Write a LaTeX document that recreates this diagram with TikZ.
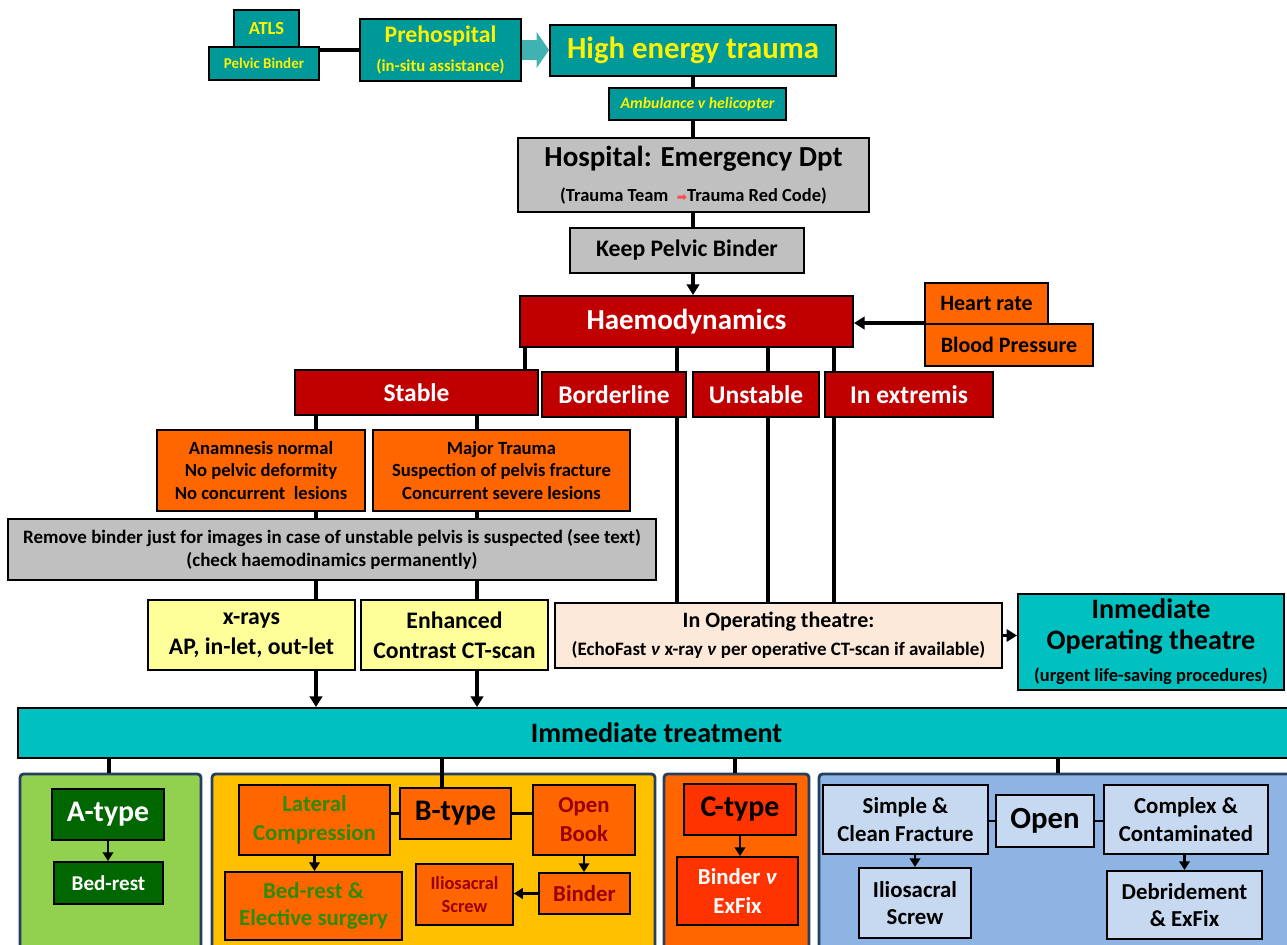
\documentclass[tikz,border=0pt]{standalone}
\usepackage{fontspec}
\setmainfont{Carlito}
\newfontfamily\symfont{DejaVu Sans}
\usepackage{tikz}
\usetikzlibrary{arrows.meta}
\usetikzlibrary{calc}

\definecolor{tealbg}{HTML}{009999}
\definecolor{cyanbg}{HTML}{00C0C0}
\definecolor{greybg}{HTML}{C0C0C0}
\definecolor{redbg}{HTML}{C00000}
\definecolor{orangebg}{HTML}{FF6600}
\definecolor{yellowbg}{HTML}{FFFF99}
\definecolor{peachbg}{HTML}{FDE9D9}
\definecolor{greenpanel}{HTML}{92D050}
\definecolor{darkgreen}{HTML}{006600}
\definecolor{goldpanel}{HTML}{FFC000}
\definecolor{ctypebg}{HTML}{FF3300}
\definecolor{bluepanel}{HTML}{8EB4E3}
\definecolor{lightblue}{HTML}{C6D9F1}
\definecolor{greentext}{HTML}{2E8B00}
\definecolor{redtext}{HTML}{990000}
\definecolor{panelline}{HTML}{243F60}

\newcommand{\fsz}[2]{\fontsize{#1}{#2}\selectfont\bfseries}

\begin{document}
\begin{tikzpicture}[x=0.02cm, y=-0.02cm,
    spot/.style n args={4}{at={({(#1+#3)/2},{(#2+#4)/2})},
      minimum width={(#3-#1)*0.02cm}, minimum height={(#4-#2)*0.02cm}},
    box/.style={draw=black, line width=1.1pt, inner sep=0pt, align=center},
    tealbox/.style={box, fill=tealbg, text=yellow},
    greybox/.style={box, fill=greybg},
    redbox/.style={box, fill=redbg, text=white},
    orangebox/.style={box, fill=orangebg},
    panel/.style={draw=panelline, line width=1.6pt, rounded corners=2pt, inner sep=0pt},
    link/.style={line width=1.8pt},
    arr/.style={link, -{Triangle[length=6pt,width=7pt]}},
    thinlink/.style={line width=1.2pt},
    thinarr/.style={thinlink, -{Triangle[length=5pt,width=6pt]}},
    fatarr/.style={line width=11pt, draw=tealbg!75, -{Triangle[length=7pt,width=20pt]}}]
  \useasboundingbox (0,0) rectangle (1287,945);

  % guide lines for the connectors
  \coordinate (spine) at (693,0);
  \coordinate (h0) at (525,0);
  \coordinate (h1) at (677,0);
  \coordinate (h2) at (768,0);
  \coordinate (h3) at (834,0);
  \coordinate (s1) at (316,0);
  \coordinate (s2) at (477,0);
  \coordinate (p1) at (109,0);
  \coordinate (p2) at (442,0);
  \coordinate (p3) at (735,0);
  \coordinate (p4) at (1058,0);

  % prehospital
  \node[tealbox, spot={234}{10}{299}{47}, font=\fsz{10.5}{12}] (atls) {ATLS};
  \node[tealbox, spot={209}{47}{319}{80}, font=\fsz{8.5}{10}] (pelvic) {Pelvic Binder};
  \node[tealbox, spot={360}{19}{521}{81}, font=\fsz{13.5}{15}] (prehosp)
    {Prehospital\\[1pt]{\fsz{9.5}{11}(in-situ assistance)}};
  \node[tealbox, spot={550}{25}{836}{76}, font=\fsz{17.5}{20}] (high) {High energy trauma};
  \node[tealbox, spot={609}{88}{786}{120}, font=\fsz{9}{10}\itshape] (amb) {Ambulance v helicopter};

  % hospital
  \node[greybox, spot={518}{138}{869}{212}, font=\fsz{16.5}{19}] (hosp)
    {Hospital: Emergency Dpt\\[1pt]{\fsz{10.5}{12}(Trauma Team \ {\symfont\fontsize{7}{8}\selectfont\textcolor{red!70}{➡}}Trauma Red Code)}};
  \node[greybox, spot={570}{228}{804}{273}, font=\fsz{13.5}{16}] (keep) {Keep Pelvic Binder};
  \node[redbox, spot={520}{296}{853}{347}, font=\fsz{16.5}{19}] (haemo) {Haemodynamics};
  \node[orangebox, spot={925}{283}{1048}{324}, font=\fsz{12.5}{15}] (heart) {Heart rate};
  \node[orangebox, spot={925}{324}{1093}{366}, font=\fsz{12.5}{15}] (blood) {Blood Pressure};

  % haemodynamic state
  \node[redbox, spot={295}{370}{538}{415}, font=\fsz{14.5}{17}] (stable) {Stable};
  \node[redbox, spot={542}{372}{686}{417}, font=\fsz{14.5}{17}] (border) {Borderline};
  \node[redbox, spot={693}{372}{819}{417}, font=\fsz{14.5}{17}] (unstable) {Unstable};
  \node[redbox, spot={825}{372}{993}{417}, font=\fsz{14.5}{17}] (extremis) {In extremis};

  \node[orangebox, spot={157}{430}{365}{511}, font=\fsz{10.6}{12.6}] (anam)
    {Anamnesis normal\\No pelvic deformity\\No concurrent\ \ lesions};
  \node[orangebox, spot={373}{430}{630}{511}, font=\fsz{10.6}{12.6}] (major)
    {Major Trauma\\Suspection of pelvis fracture\\Concurrent severe lesions};
  \node[greybox, spot={8}{519}{656}{580}, font=\fsz{10.8}{13.5}] (remove)
    {Remove binder just for images in case of unstable pelvis is suspected (see text)\\(check haemodinamics permanently)};

  % imaging
  \node[box, fill=yellowbg, spot={148}{600}{355}{670}, font=\fsz{13.5}{17}] (xrays) {x-rays\\AP, in-let, out-let};
  \node[box, fill=yellowbg, spot={361}{600}{548}{670}, font=\fsz{13.5}{17}] (ct) {Enhanced\\Contrast CT-scan};
  \node[box, fill=peachbg, spot={555}{603}{1002}{668}, font=\fsz{12.5}{15}] (optheatre)
    {In Operating theatre:\\[1pt]{\fsz{10.8}{12}(EchoFast \textit{ν} x-ray \textit{ν} per operative CT-scan if available)}};
  \node[box, fill=cyanbg, spot={1018}{594}{1284}{690}, font=\fsz{16}{17.5}] (inmed)
    {Inmediate\\Operating theatre\\[1pt]{\fsz{10.5}{12}(urgent life-saving procedures)}};

  \node[box, fill=cyanbg, spot={18}{708}{1295}{758}, font=\fsz{16}{19}] (immtreat) {Immediate treatment};

  % fracture types
  \node[panel, fill=greenpanel, spot={20}{774}{201}{960}] (panelA) {};
  \node[panel, fill=goldpanel, spot={212}{774}{655}{960}] (panelB) {};
  \node[panel, fill=orangebg, spot={664}{774}{809}{960}] (panelC) {};
  \node[panel, fill=bluepanel, spot={819}{774}{1300}{960}] (panelD) {};

  \node[box, fill=darkgreen, text=white, spot={52}{789}{164}{840}, font=\fsz{17}{19}] (atype) {A-type};
  \node[box, fill=darkgreen, text=white, spot={54}{862}{163}{904}, font=\fsz{12}{14}] (abed) {Bed-rest};

  \node[orangebox, text=greentext, spot={239}{785}{390}{855}, font=\fsz{13}{16.5}] (lateral) {Lateral\\Compression};
  \node[orangebox, spot={400}{788}{511}{839}, font=\fsz{17}{19}] (btype) {B-type};
  \node[orangebox, text=redtext, spot={533}{785}{635}{855}, font=\fsz{13}{16.5}] (openbook) {Open\\Book};
  \node[orangebox, text=greentext, spot={225}{872}{402}{940}, font=\fsz{13}{15.5}] (bbed) {Bed-rest \&\\Elective surgery};
  \node[orangebox, text=redtext, spot={416}{864}{513}{925}, font=\fsz{10.5}{13.5}] (biliosacral) {Iliosacral\\Screw};
  \node[orangebox, text=redtext, spot={539}{873}{630}{914}, font=\fsz{13}{15}] (bbinder) {Binder};

  \node[box, fill=ctypebg, spot={684}{784}{796}{835}, font=\fsz{17}{19}] (ctype) {C-type};
  \node[box, fill=ctypebg, text=white, spot={677}{857}{798}{925}, font=\fsz{13}{16.5}] (cbinder)
    {Binder \textit{ν}\\ExFix};

  \node[box, fill=lightblue, spot={823}{785}{988}{854}, font=\fsz{13}{15.5}] (simple) {Simple \&\\Clean Fracture};
  \node[box, fill=lightblue, spot={996}{795}{1094}{847}, font=\fsz{17.5}{20}] (open) {Open};
  \node[box, fill=lightblue, spot={1104}{785}{1268}{854}, font=\fsz{13}{15.5}] (complex) {Complex \&\\Contaminated};
  \node[box, fill=lightblue, spot={859}{868}{971}{938}, font=\fsz{13}{15.5}] (diliosacral) {Iliosacral\\Screw};
  \node[box, fill=lightblue, spot={1107}{871}{1262}{939}, font=\fsz{13}{15}] (debride) {Debridement\\\& ExFix};

  % connectors
  \draw[link] (pelvic.east |- prehosp.west) -- (prehosp.west);
  \draw[fatarr] (prehosp.east) -- (prehosp.east -| high.west);
  \draw[link] (high.south -| spine) -- (amb.north -| spine);
  \draw[link] (amb.south -| spine) -- (hosp.north -| spine);
  \draw[link] (hosp.south -| spine) -- (keep.north -| spine);
  \draw[arr] (keep.south -| spine) -- (haemo.north -| spine);
  \draw[arr] (blood.north west) -- (blood.north west -| haemo.east);

  \draw[link] (haemo.south -| h0) -- (stable.north -| h0);
  \draw[link] (haemo.south -| h1) -- (border.north -| h1);
  \draw[link] (haemo.south -| h2) -- (unstable.north -| h2);
  \draw[link] (haemo.south -| h3) -- (extremis.north -| h3);
  \draw[link] (border.south -| h1) -- (optheatre.north -| h1);
  \draw[link] (unstable.south -| h2) -- (optheatre.north -| h2);
  \draw[link] (extremis.south -| h3) -- (optheatre.north -| h3);

  \draw[link] (stable.south -| s1) -- (anam.north -| s1);
  \draw[link] (anam.south -| s1) -- (remove.north -| s1);
  \draw[link] (remove.south -| s1) -- (xrays.north -| s1);
  \draw[arr] (xrays.south -| s1) -- (immtreat.north -| s1);
  \draw[link] (stable.south -| s2) -- (major.north -| s2);
  \draw[link] (major.south -| s2) -- (remove.north -| s2);
  \draw[link] (remove.south -| s2) -- (ct.north -| s2);
  \draw[arr] (ct.south -| s2) -- (immtreat.north -| s2);
  \draw[arr] (optheatre.east) -- (optheatre.east -| inmed.west);

  \draw[link] (immtreat.south -| p1) -- (panelA.north -| p1);
  \draw[link] (immtreat.south -| p2) -- (btype.north -| p2);
  \draw[link] (immtreat.south -| p3) -- (panelC.north -| p3);
  \draw[link] (immtreat.south -| p4) -- (panelD.north -| p4);

  \draw[thinarr] (atype.south) -- (atype.south |- abed.north);
  \draw[thinlink] (lateral.east |- btype.west) -- (btype.west);
  \draw[thinlink] (btype.east) -- (btype.east -| openbook.west);
  \draw[thinarr] (lateral.south) -- (lateral.south |- bbed.north);
  \draw[thinarr] (openbook.south) -- (openbook.south |- bbinder.north);
  \draw[thinarr] (bbinder.west) -- (bbinder.west -| biliosacral.east);
  \draw[thinarr] (ctype.south) -- (ctype.south |- cbinder.north);
  \draw[thinlink] (simple.east |- open.west) -- (open.west);
  \draw[thinlink] (open.east) -- (open.east -| complex.west);
  \draw[thinarr] (simple.south -| diliosacral.north) -- (diliosacral.north);
  \draw[thinarr] (complex.south -| debride.north) -- (debride.north);
\end{tikzpicture}
\end{document}
